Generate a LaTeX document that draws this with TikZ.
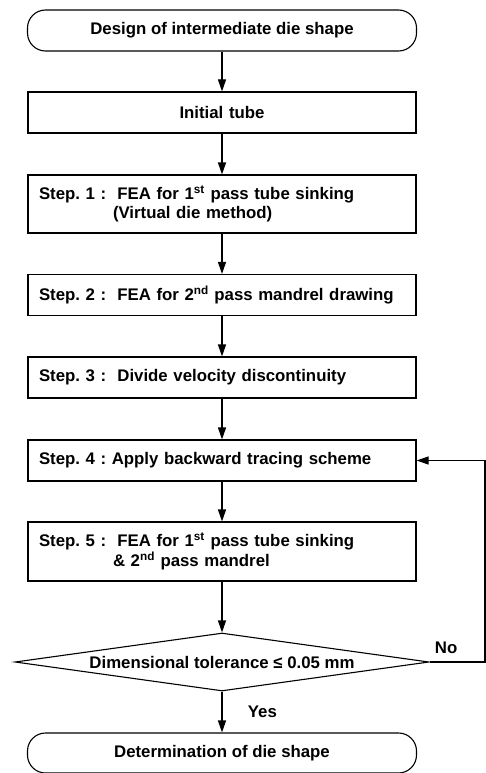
\documentclass[tikz,border=0pt]{standalone}
\usepackage{fontspec}
\setmainfont{Liberation Sans}
\usetikzlibrary{arrows.meta}
\usetikzlibrary{shapes.geometric}
\frenchspacing

\begin{document}
\begin{tikzpicture}[x=1pt, y=1pt, line width=1.1pt,
  font=\fontsize{16.8}{19.5}\selectfont\bfseries,
  >={Triangle[length=12pt,width=8pt]},
  term/.style = {draw, rounded corners=18pt, minimum width=389pt, minimum height=41pt},
  box/.style = {draw, text width=366pt, inner xsep=11pt, align=left, minimum height=41pt},
  dec/.style = {draw, diamond, aspect=7.14, inner sep=0pt, minimum width=414pt, minimum height=58pt}]
  \useasboundingbox (0,0) rectangle (486,-773);
  \node[term] (1) at (222,-30.5) {Design of intermediate die shape};
  \node[box, align=center] (2) at (222,-112.5) {Initial tube};
  \node[box, minimum height=58pt] (3) at (222,-204) {Step. 1 :~~FEA for 1\textsuperscript{st} pass tube sinking\\\hspace*{74pt}(Virtual die method)};
  \node[box] (4) at (222,-295) {Step. 2 :~~FEA for 2\textsuperscript{nd} pass mandrel drawing};
  \node[box] (5) at (222,-377.5) {Step. 3 :~~Divide velocity discontinuity};
  \node[box] (6) at (222,-460.5) {Step. 4 : Apply backward tracing scheme};
  \node[box, minimum height=59pt] (7) at (222,-551.5) {Step. 5 :~~FEA for 1\textsuperscript{st} pass tube sinking\\\hspace*{74pt}\& 2\textsuperscript{nd} pass mandrel};
  \node[dec] (8) at (222,-662) {Dimensional tolerance ≤ 0.05 mm};
  \node[term, minimum height=40pt] (9) at (222,-753) {Determination of die shape};
  \coordinate (c) at (485,-662);
  \draw[->] (1) to (2);
  \draw[->] (2) to (3);
  \draw[->] (3) to (4);
  \draw[->] (4) to (5);
  \draw[->] (5) to (6);
  \draw[->] (6) to (7);
  \draw[->] (7) to (8);
  \draw[->] (8) to node[midway, right=22pt] {Yes} (9);
  \draw[->] (8.east) -- node[pos=0.3, above=4pt] {No} (c) |- (6.east);
\end{tikzpicture}
\end{document}
